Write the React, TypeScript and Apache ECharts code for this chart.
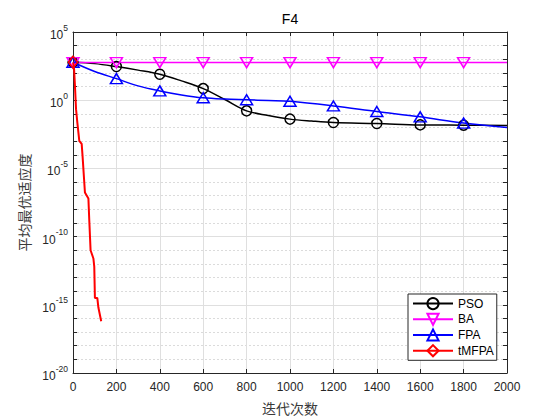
import React, { useEffect, useRef } from "react";
import * as echarts from "echarts";

const seriesNames = ["PSO", "BA", "FPA", "tMFPA"];

const psoIter = [0, 100, 200, 300, 400, 500, 600, 700, 800, 900, 1000, 1100, 1200, 1400, 1600, 1800, 2000];
const psoValue = [6.0e2, 4.8e2, 2.9e2, 1.6e2, 8.0e1, 2.6e1, 7.1e0, 1.12e0, 1.66e-1, 7.6e-2, 4.1e-2, 2.95e-2, 2.3e-2, 1.95e-2, 1.55e-2, 1.48e-2, 1.42e-2];

const baIter = [0, 200, 400, 600, 800, 1000, 1200, 1400, 1600, 1800, 2000];
const baValue = [5.7e2, 5.7e2, 5.7e2, 5.7e2, 5.7e2, 5.7e2, 5.7e2, 5.7e2, 5.7e2, 5.7e2, 5.7e2];

const fpaIter = [0, 100, 200, 300, 400, 500, 600, 700, 800, 900, 1000, 1200, 1400, 1600, 1800, 2000];
const fpaValue = [6.0e2, 1.26e2, 3.8e1, 1.12e1, 4.8e0, 2.45e0, 1.5e0, 1.2e0, 1.07e0, 9.5e-1, 8.3e-1, 3.8e-1, 1.48e-1, 6.0e-2, 2.1e-2, 1.0e-2];

const tmfpaIter = [0, 5, 9, 14, 20, 29, 40, 44, 51, 55, 71, 75, 81, 94, 98, 101, 112, 117, 130];
const tmfpaValue = [6.0e2, 1.86e2, 1.12e1, 2.2e-1, 2.3e-2, 1.05e-3, 6.3e-4, 8.3e-5, 1.6e-6, 1.7e-7, 6.3e-8, 1.6e-9, 1.0e-11, 2.5e-12, 6.3e-13, 3.2e-15, 3.2e-15, 6.3e-16, 6.3e-17];

const xTicks = { min: 0, max: 2000, step: 200 };
const yExponents = { min: -20, max: 5, step: 5 };
const markerStep = 200;
const markerLast = 1800;

const LATIN = "'Liberation Sans', Arial, Helvetica, sans-serif";
const CJK = "'Noto Sans CJK SC', sans-serif";
const AXIS_COLOR = "#262626";

function buildData(iters: number[], values: number[]) {
  return iters.map((it, i) => {
    const point = [it, Math.log10(values[i])];
    const marked = it % markerStep === 0 && it <= markerLast;
    return marked ? { value: point } : { value: point, symbol: "none" };
  });
}

export default function App() {
  const ref = useRef<HTMLDivElement>(null);

  useEffect(() => {
    if (!ref.current) return;
    const chart = echarts.init(ref.current, undefined, { renderer: "svg" });

    const markerStyle = (color: string) => ({
      color: "rgba(0,0,0,0)",
      borderColor: color,
      borderWidth: 1.5,
    });

    const option: any = {
      animation: false,
      graphic: [
        {
          type: "text",
          x: 290,
          y: 19,
          style: {
            text: "F4",
            fontFamily: LATIN,
            fontSize: 14,
            fill: "#000",
            textAlign: "center",
            textVerticalAlign: "middle",
          },
        },
      ],
      grid: { left: 73, right: 53, top: 32, bottom: 47, containLabel: false },
      legend: {
        orient: "vertical",
        left: 408,
        top: 294,
        itemWidth: 40,
        itemHeight: 14,
        itemGap: 2.5,
        padding: [3, 3, 3, 4],
        backgroundColor: "#fff",
        borderColor: "#262626",
        borderWidth: 1,
        borderRadius: 0,
        selectedMode: false,
        textStyle: { fontFamily: LATIN, fontSize: 12, color: "#000" },
        data: seriesNames,
      },
      xAxis: [
        {
          type: "value",
          min: xTicks.min,
          max: xTicks.max,
          interval: xTicks.step,
          position: "bottom",
          axisLine: { show: true, onZero: false, lineStyle: { color: AXIS_COLOR, width: 1 } },
          axisTick: { show: true, inside: true, length: 4, lineStyle: { color: AXIS_COLOR } },
          axisLabel: {
            color: AXIS_COLOR,
            fontSize: 12,
            fontFamily: LATIN,
            margin: 8,
            formatter: (v: number) => String(v),
          },
          splitLine: { show: true, lineStyle: { color: "#dfdfdf", width: 1 } },
          name: "迭代次数",
          nameLocation: "middle",
          nameGap: 28,
          nameTextStyle: { fontFamily: CJK, fontSize: 14, color: "#3a3a3a" },
        },
        {
          type: "value",
          min: xTicks.min,
          max: xTicks.max,
          interval: xTicks.step,
          position: "top",
          axisLine: { show: true, onZero: false, lineStyle: { color: AXIS_COLOR, width: 1 } },
          axisTick: { show: true, inside: true, length: 4, lineStyle: { color: AXIS_COLOR } },
          axisLabel: { show: false },
          splitLine: { show: false },
        },
      ],
      yAxis: [
        {
          type: "value",
          min: yExponents.min,
          max: yExponents.max,
          interval: yExponents.step,
          position: "left",
          axisLine: { show: true, onZero: false, lineStyle: { color: AXIS_COLOR, width: 1 } },
          axisTick: { show: true, inside: true, length: 4, lineStyle: { color: AXIS_COLOR } },
          minorTick: { show: true, splitNumber: 5, length: 4, lineStyle: { color: AXIS_COLOR } },
          splitLine: { show: true, lineStyle: { color: "#dfdfdf", width: 1 } },
          minorSplitLine: { show: true, lineStyle: { color: "#d2d2d2", width: 0.8, type: [2, 2] } },
          axisLabel: {
            margin: 5,
            formatter: (v: number) => `{b|10}{s|${v}}`,
            rich: {
              b: { fontFamily: LATIN, fontSize: 12, color: AXIS_COLOR, lineHeight: 18, verticalAlign: "bottom" },
              s: { fontFamily: LATIN, fontSize: 8.5, color: AXIS_COLOR, lineHeight: 9, verticalAlign: "top" },
            },
          },
          name: "平均最优适应度",
          nameLocation: "middle",
          nameGap: 41,
          nameTextStyle: { fontFamily: CJK, fontSize: 14, color: "#3a3a3a" },
        },
        {
          type: "value",
          min: yExponents.min,
          max: yExponents.max,
          interval: 1,
          position: "right",
          axisLine: { show: true, onZero: false, lineStyle: { color: AXIS_COLOR, width: 1 } },
          axisTick: { show: true, inside: true, length: 4, lineStyle: { color: AXIS_COLOR } },
          axisLabel: { show: false },
          splitLine: { show: false },
        },
      ],
      series: [
        {
          name: "PSO",
          type: "line",
          smooth: 0.35,
          showAllSymbol: true,
          symbol: "circle",
          symbolSize: 10,
          itemStyle: markerStyle("#000000"),
          lineStyle: { color: "#000000", width: 1.5 },
          data: buildData(psoIter, psoValue),
          z: 3,
        },
        {
          name: "BA",
          type: "line",
          showAllSymbol: true,
          symbol: "triangle",
          symbolRotate: 180,
          symbolSize: [12, 10],
          itemStyle: markerStyle("#ff00ff"),
          lineStyle: { color: "#ff00ff", width: 1.5 },
          data: buildData(baIter, baValue),
          z: 3,
        },
        {
          name: "FPA",
          type: "line",
          smooth: 0.35,
          showAllSymbol: true,
          symbol: "triangle",
          symbolSize: [12, 10],
          itemStyle: markerStyle("#0000ff"),
          lineStyle: { color: "#0000ff", width: 1.5 },
          data: buildData(fpaIter, fpaValue),
          z: 3,
        },
        {
          name: "tMFPA",
          type: "line",
          showAllSymbol: true,
          symbol: "diamond",
          symbolSize: [9, 12],
          itemStyle: markerStyle("#ff0000"),
          lineStyle: { color: "#ff0000", width: 2 },
          data: buildData(tmfpaIter, tmfpaValue),
          z: 4,
        },
      ],
    };

    chart.setOption(option);
    return () => chart.dispose();
  }, []);

  return (
    <div
      ref={ref}
      style={{ position: "fixed", left: 0, top: 0, width: 560, height: 420, background: "#fff" }}
    />
  );
}
